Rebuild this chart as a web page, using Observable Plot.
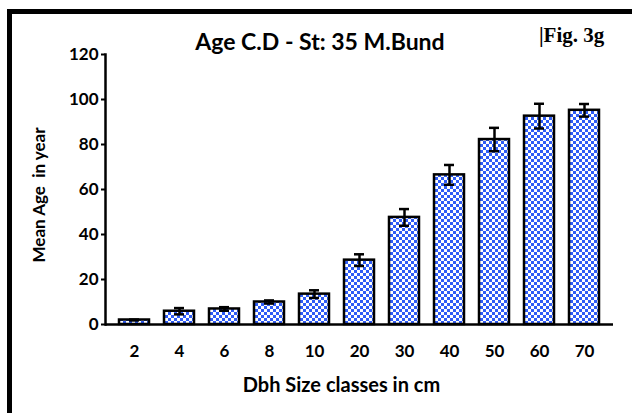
<!DOCTYPE html>
<html>
<head>
<meta charset="utf-8">
<script src="https://cdn.jsdelivr.net/npm/d3@7"></script>
<script src="https://cdn.jsdelivr.net/npm/@observablehq/plot@0.6"></script>
<style>
  html, body { margin: 0; padding: 0; background: #fff; }
  #wrap { position: relative; width: 632px; height: 413px; overflow: hidden; background: #fff; }
  #border { position: absolute; left: 7px; top: 9px; width: 700px; height: 500px;
            border-left: 5px solid #000; border-top: 5px solid #000; pointer-events: none; }
</style>
</head>
<body>
<div id="wrap"><div id="border"></div></div>
<script>
const classes = ["2", "4", "6", "8", "10", "20", "30", "40", "50", "60", "70"];
const meanAge = [2.0, 5.9, 6.9, 10.0, 13.5, 28.6, 47.6, 66.5, 82.2, 92.6, 95.2];
const errAge  = [0.2, 1.4, 0.8, 0.7, 1.7, 2.6, 3.7, 4.4, 5.2, 5.5, 2.8];
const yTicks = [0, 20, 40, 60, 80, 100, 120];
const titleText = "Age C.D - St: 35 M.Bund";
const figText = "|Fig. 3g";
const xLabel = "Dbh Size classes in cm";
const yLabel = "Mean Age  in year";

const data = classes.map((c, i) => ({c, m: meanAge[i], e: errAge[i]}));

const chart = Plot.plot({
  width: 632, height: 413,
  marginLeft: 105, marginRight: 19, marginTop: 54, marginBottom: 89,
  style: {fontFamily: "Lato, sans-serif", fontWeight: "bold", fontSize: "17px", color: "#000", background: "transparent"},
  x: {domain: classes, paddingInner: 0.33, paddingOuter: 0.19, label: null},
  y: {domain: [0, 120], label: null},
  marks: [
    Plot.barY(data, {x: "c", y: "m", fill: "url(#checker)", stroke: "#000", strokeWidth: 2.5}),
    Plot.ruleX(data, {x: "c", y1: d => d.m - d.e, y2: d => d.m + d.e, stroke: "#000", strokeWidth: 2.5}),
    Plot.tickY(data, {x: "c", y: d => d.m + d.e, insetLeft: 10, insetRight: 10, stroke: "#000", strokeWidth: 2.5}),
    Plot.tickY(data, {x: "c", y: d => d.m - d.e, insetLeft: 10, insetRight: 10, stroke: "#000", strokeWidth: 2.5}),
    Plot.ruleY([0], {stroke: "#000", strokeWidth: 2.5}),
    Plot.frame({anchor: "left", stroke: "#000", strokeWidth: 2.5}),
    Plot.axisY({ticks: yTicks, tickSize: 4, tickPadding: 3, label: null, strokeWidth: 2, fontSize: 17}),
    Plot.axisX({tickSize: 0, tickPadding: 20, label: null, fontSize: 17}),
    Plot.text([yLabel], {text: d => d, frameAnchor: "left", rotate: -90, textAnchor: "start", lineAnchor: "middle", dx: -66, dy: 73, fontSize: 17, fontWeight: "bold"}),
    Plot.text([xLabel], {text: d => d, frameAnchor: "bottom", textAnchor: "middle", lineAnchor: "middle", dx: -18, dy: 61, fontSize: 20, fontWeight: "bold"})
  ]
});

const svg = d3.select(chart);
const pat = svg.insert("defs", ":first-child").append("pattern")
  .attr("id", "checker").attr("patternUnits", "userSpaceOnUse")
  .attr("width", 6).attr("height", 6);
pat.append("rect").attr("width", 6).attr("height", 6).attr("fill", "#ffffff");
pat.append("rect").attr("x", 0).attr("y", 0).attr("width", 3).attr("height", 3).attr("fill", "#2f5cf6");
pat.append("rect").attr("x", 3).attr("y", 3).attr("width", 3).attr("height", 3).attr("fill", "#2f5cf6");

svg.append("text").text(titleText)
  .attr("x", 320).attr("y", 50).attr("text-anchor", "middle")
  .style("font-family", "Lato, sans-serif").style("font-weight", "bold").style("font-size", "23px").attr("fill", "#000");
svg.append("text").text(figText)
  .attr("x", 539).attr("y", 42).attr("text-anchor", "start")
  .style("font-family", "'Liberation Serif', serif").style("font-weight", "bold").style("font-size", "21px").attr("fill", "#000");

const wrap = document.getElementById("wrap");
wrap.insertBefore(chart, wrap.firstChild);
chart.style.position = "absolute";
chart.style.left = "0";
chart.style.top = "0";
</script>
</body>
</html>
